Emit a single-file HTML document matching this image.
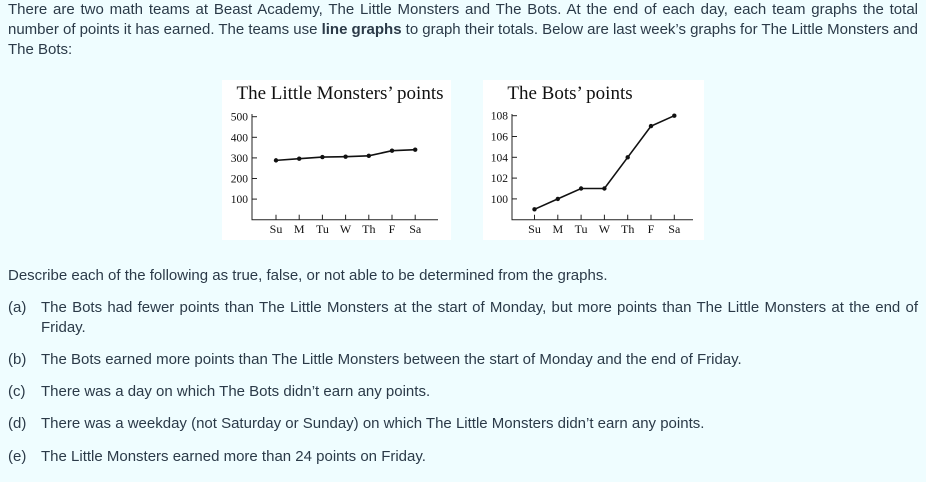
<!DOCTYPE html>
<html><head><meta charset="utf-8"><style>
body{margin:0;width:926px;height:482px;background:#effdff;font-family:"Liberation Sans",sans-serif;color:#2b3a48;position:relative;overflow:hidden}
.l{position:absolute;font-size:15px;line-height:20px;white-space:nowrap}
.j{text-align:justify;text-align-last:justify;white-space:normal;word-spacing:-1.5px}
.panel{position:absolute;background:#fff}
svg text{font-family:"Liberation Serif",serif;fill:#111}
</style></head><body>
<div class="l j" style="left:8px;top:0px;width:910px">There are two math teams at Beast Academy, The Little Monsters and The Bots. At the end of each day, each team graphs the total</div>
<div class="l j" style="left:8px;top:20px;width:910px">number of points it has earned. The teams use <b>line graphs</b> to graph their totals. Below are last week’s graphs for The Little Monsters and</div>
<div class="l" style="left:8px;top:40px">The Bots:</div>
<div class="panel" style="left:222px;top:80px;width:229px;height:160px"></div>
<div class="panel" style="left:483px;top:80px;width:221px;height:160px"></div>
<svg id="chart" width="926" height="482" style="position:absolute;left:0;top:0"></svg>
<div class="l" style="left:8px;top:266px">Describe each of the following as true, false, or not able to be determined from the graphs.</div>
<div class="l" style="left:8px;top:298px">(a)</div>
<div class="l j" style="left:41px;top:298px;width:877px">The Bots had fewer points than The Little Monsters at the start of Monday, but more points than The Little Monsters at the end of</div>
<div class="l" style="left:41px;top:318px">Friday.</div>
<div class="l" style="left:8px;top:350px">(b)</div>
<div class="l" style="left:41px;top:350px">The Bots earned more points than The Little Monsters between the start of Monday and the end of Friday.</div>
<div class="l" style="left:8px;top:382px">(c)</div>
<div class="l" style="left:41px;top:382px">There was a day on which The Bots didn’t earn any points.</div>
<div class="l" style="left:8px;top:414px">(d)</div>
<div class="l" style="left:41px;top:414px">There was a weekday (not Saturday or Sunday) on which The Little Monsters didn’t earn any points.</div>
<div class="l" style="left:8px;top:447px">(e)</div>
<div class="l" style="left:41px;top:447px">The Little Monsters earned more than 24 points on Friday.</div>
<script>
const days=["Su","M","Tu","W","Th","F","Sa"];
const monstersValues=[288,296,304,306,310,335,340];
const monstersTicks=[100,200,300,400,500];
const botsValues=[99,100,101,101,104,107,108];
const botsTicks=[100,102,104,106,108];
const svg=document.getElementById('chart');
const NS='http://www.w3.org/2000/svg';
function mk(t,a,txt){const e=document.createElementNS(NS,t);for(const k in a)e.setAttribute(k,a[k]);if(txt!==undefined)e.textContent=txt;svg.appendChild(e);return e;}
function draw(o){
  const x=i=>o.x0+i*o.dx;
  const y=v=>o.yBase-(v-o.vBase)*o.k;
  let t=mk('text',{x:o.titleX,y:99,'font-size':19,'text-anchor':'middle'},o.title);
  
  let ax=mk('path',{d:`M${o.ax},${o.top} V${o.yBase} H${o.xEnd}`,stroke:'#222',fill:'none','stroke-width':1});
  
  o.ticks.forEach(v=>{
    const l=mk('line',{x1:o.ax,x2:o.ax+5,y1:y(v),y2:y(v),stroke:'#222'});
    
    const tx=mk('text',{x:o.ax-4,y:y(v)+4,'font-size':11.5,'text-anchor':'end'},v);
    
  });
  days.forEach((d,i)=>{
    const l=mk('line',{x1:x(i),x2:x(i),y1:o.yBase,y2:o.yBase-5,stroke:'#222'});
    
    const tx=mk('text',{x:x(i),y:233,'font-size':12,'text-anchor':'middle'},d);
    
  });
  const p=mk('polyline',{points:o.vals.map((v,i)=>x(i)+','+y(v)).join(' '),fill:'none',stroke:'#111','stroke-width':1.6});
  
  o.vals.forEach((v,i)=>{
    const c=mk('circle',{cx:x(i),cy:y(v),r:2.2,fill:'#111'});
    
  });
}
draw({id:'monsters',title:'The Little Monsters’ points',titleX:340,vals:monstersValues,ticks:monstersTicks,ax:252,top:114,xEnd:438,x0:276,dx:23.2,yBase:219.7,vBase:0,k:0.206});
draw({id:'bots',title:'The Bots’ points',titleX:570,vals:botsValues,ticks:botsTicks,ax:512,top:114,xEnd:693,x0:534.5,dx:23.3,yBase:219.7,vBase:98,k:10.4});
</script>
</body></html>
